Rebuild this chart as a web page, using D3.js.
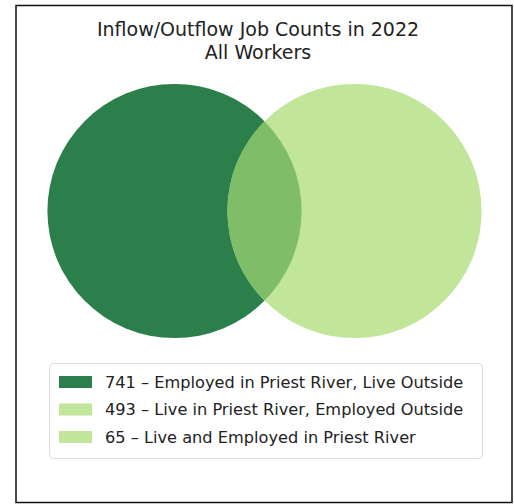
<!DOCTYPE html>
<html>
<head>
<meta charset="utf-8">
<script src="https://cdn.jsdelivr.net/npm/d3@7"></script>
<style>
  body { margin: 0; background: #fff; }
  text { font-family: "DejaVu Sans", sans-serif; fill: #222; }
</style>
</head>
<body>
<div id="chart"></div>
<script>
// Chart data
const titleLines = ["Inflow/Outflow Job Counts in 2022", "All Workers"]
const setNames = ["Employed in Priest River, Live Outside", "Live in Priest River, Employed Outside", "Live and Employed in Priest River"]
const setCounts = [741, 493, 65]
const setColors = ["#2b7f4a", "#c2e699", "#c2e699"]
const overlapColor = "#80bd68"
// circle centres in layout units (distance between centres = 1)
const circleCenters = [-0.5, 0.5]
const circleRadius = 0.706

const width = 514
const height = 504

const svg = d3.select("#chart")
    .append("svg")
    .attr("width", width)
    .attr("height", height)

// Frame round the figure
svg.append("rect")
    .attr("x", 16)
    .attr("y", 5.5)
    .attr("width", 496)
    .attr("height", 497)
    .attr("fill", "none")
    .attr("stroke", "#111")
    .attr("stroke-width", 1.5)

// Title
svg.append("text")
    .attr("text-anchor", "middle")
    .attr("x", 258)
    .attr("y", 36)
    .style("font-size", "19px")
    .selectAll("tspan")
    .data(titleLines)
    .enter()
    .append("tspan")
    .attr("x", 258)
    .attr("dy", (d, i) => i == 0 ? 0 : "1.2em")
    .text(d => d)

// Scales for the venn layout
const xScale = d3.scaleLinear().domain([-1, 1]).range([84.5, 444.5])
const yScale = d3.scaleLinear().domain([-1, 1]).range([391, 31])
const rPx = xScale(circleRadius) - xScale(0)

// Circles
svg.selectAll("circle.set")
    .data(circleCenters)
    .enter()
    .append("circle")
    .attr("class", "set")
    .attr("cx", d => xScale(d))
    .attr("cy", yScale(0))
    .attr("r", rPx)
    .attr("fill", (d, i) => setColors[i])

// Overlap region: right circle clipped by left circle
svg.append("clipPath")
    .attr("id", "leftClip")
    .append("circle")
    .attr("cx", xScale(circleCenters[0]))
    .attr("cy", yScale(0))
    .attr("r", rPx)

svg.append("circle")
    .attr("clip-path", "url(#leftClip)")
    .attr("cx", xScale(circleCenters[1]))
    .attr("cy", yScale(0))
    .attr("r", rPx)
    .attr("fill", overlapColor)

// Legend
const legend = svg.append("g").attr("transform", "translate(49,363)")

legend.append("rect")
    .attr("x", 0.5)
    .attr("y", 0.5)
    .attr("width", 433)
    .attr("height", 95)
    .attr("rx", 4)
    .attr("fill", "#fff")
    .attr("stroke", "#ddd")

const rowY = d3.scalePoint().domain(d3.range(setNames.length)).range([19, 74])

const rows = legend.selectAll("g.row")
    .data(setNames)
    .enter()
    .append("g")
    .attr("class", "row")
    .attr("transform", (d, i) => "translate(0," + rowY(i) + ")")

rows.append("rect")
    .attr("x", 10)
    .attr("y", -6)
    .attr("width", 33)
    .attr("height", 12)
    .attr("fill", (d, i) => setColors[i])

rows.append("text")
    .attr("x", 56)
    .attr("dy", "0.36em")
    .style("font-size", "16.2px")
    .text((d, i) => setCounts[i] + " \u2013 " + d)
</script>
</body>
</html>
